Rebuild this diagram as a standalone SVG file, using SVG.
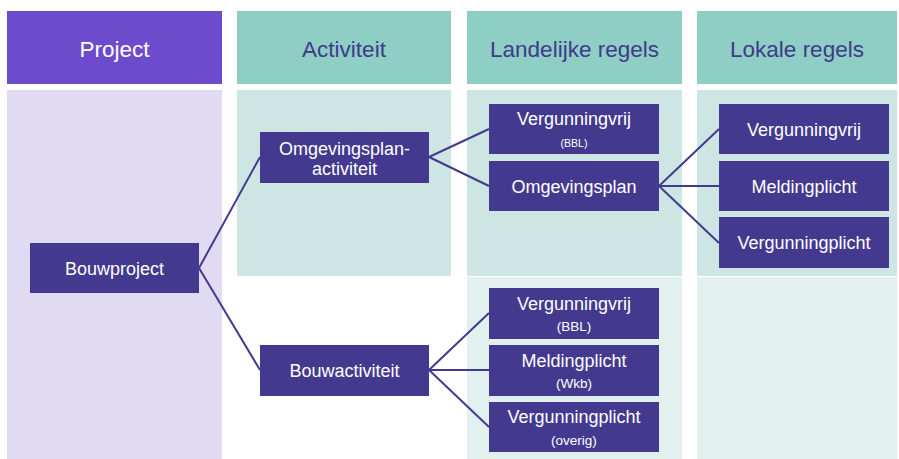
<svg xmlns="http://www.w3.org/2000/svg" width="899" height="459" viewBox="0 0 899 459">
<style>
.hdrP{fill:#6d4bcd}
.hdrT{fill:#8ecec5}
.bodyP{fill:#e0daf3}
.bodyT{fill:#cde6e4}
.bodyL{fill:#e2f1ef}
.ht{font-family:"Liberation Sans",Arial,sans-serif;font-size:22.5px;text-anchor:middle}
.htw{fill:#ffffff}
.htd{fill:#3f3a8a}
.node rect{fill:#433a8f}
.node text{font-family:"Liberation Sans",Arial,sans-serif;font-size:18px;fill:#ffffff;text-anchor:middle}
.node text.s{font-size:10.5px}
.node text.m{font-size:13.5px}
.conn line{stroke:#433a8f;stroke-width:2;fill:none}
</style>
<rect width="899" height="459" fill="#ffffff"/>
<g id="columns">
<rect class="hdrP" x="7" y="11" width="215" height="73"/>
<rect class="bodyP" x="7" y="90" width="215" height="369"/>
<rect class="hdrT" x="237" y="11" width="214" height="73"/>
<rect class="bodyT" x="237" y="90" width="214" height="186"/>
<rect class="hdrT" x="467" y="11" width="215" height="73"/>
<rect class="bodyT" x="467" y="90" width="215" height="186"/>
<rect class="bodyL" x="467" y="277" width="215" height="182"/>
<rect class="hdrT" x="697" y="11" width="200" height="73"/>
<rect class="bodyT" x="697" y="90" width="200" height="186"/>
<rect class="bodyL" x="697" y="277" width="200" height="182"/>
<text class="ht htw" x="114.5" y="57">Project</text>
<text class="ht htd" x="344" y="57">Activiteit</text>
<text class="ht htd" x="574.5" y="57">Landelijke regels</text>
<text class="ht htd" x="797" y="57">Lokale regels</text>
</g>
<g id="connectors" class="conn">
<line x1="199" y1="268" x2="260" y2="157"/>
<line x1="199" y1="268" x2="260" y2="370"/>
<line x1="429" y1="157" x2="489" y2="129"/>
<line x1="429" y1="157" x2="489" y2="186"/>
<line x1="659" y1="186" x2="719" y2="129"/>
<line x1="659" y1="186" x2="719" y2="186"/>
<line x1="659" y1="186" x2="719" y2="243"/>
<line x1="429" y1="370" x2="489" y2="313"/>
<line x1="429" y1="370" x2="489" y2="370"/>
<line x1="429" y1="370" x2="489" y2="427"/>
</g>
<g id="bouwproject" class="node"><rect x="30" y="243" width="169" height="50"/><text x="114.5" y="275">Bouwproject</text></g>
<g id="omgevingsplanactiviteit" class="node"><rect x="260" y="132" width="169" height="51"/><text x="344.5" y="155">Omgevingsplan-</text><text x="344.5" y="175">activiteit</text></g>
<g id="bouwactiviteit" class="node"><rect x="260" y="345" width="169" height="51"/><text x="344.5" y="377">Bouwactiviteit</text></g>
<g id="land-vergunningvrij-1" class="node"><rect x="489" y="104" width="170" height="50"/><text x="574" y="125">Vergunningvrij</text><text class="s" x="574" y="147">(BBL)</text></g>
<g id="land-omgevingsplan" class="node"><rect x="489" y="161" width="170" height="50"/><text x="574" y="193">Omgevingsplan</text></g>
<g id="lok-vergunningvrij" class="node"><rect x="719" y="104" width="170" height="50"/><text x="804" y="136">Vergunningvrij</text></g>
<g id="lok-meldingplicht" class="node"><rect x="719" y="161" width="170" height="50"/><text x="804" y="193">Meldingplicht</text></g>
<g id="lok-vergunningplicht" class="node"><rect x="719" y="217" width="170" height="51"/><text x="804" y="249">Vergunningplicht</text></g>
<g id="land-vergunningvrij-2" class="node"><rect x="489" y="288" width="170" height="51"/><text x="574" y="310">Vergunningvrij</text><text class="m" x="574" y="331">(BBL)</text></g>
<g id="land-meldingplicht" class="node"><rect x="489" y="345" width="170" height="51"/><text x="574" y="367">Meldingplicht</text><text class="m" x="574" y="388">(Wkb)</text></g>
<g id="land-vergunningplicht" class="node"><rect x="489" y="402" width="170" height="50"/><text x="574" y="423">Vergunningplicht</text><text class="m" x="574" y="445">(overig)</text></g>
</svg>
